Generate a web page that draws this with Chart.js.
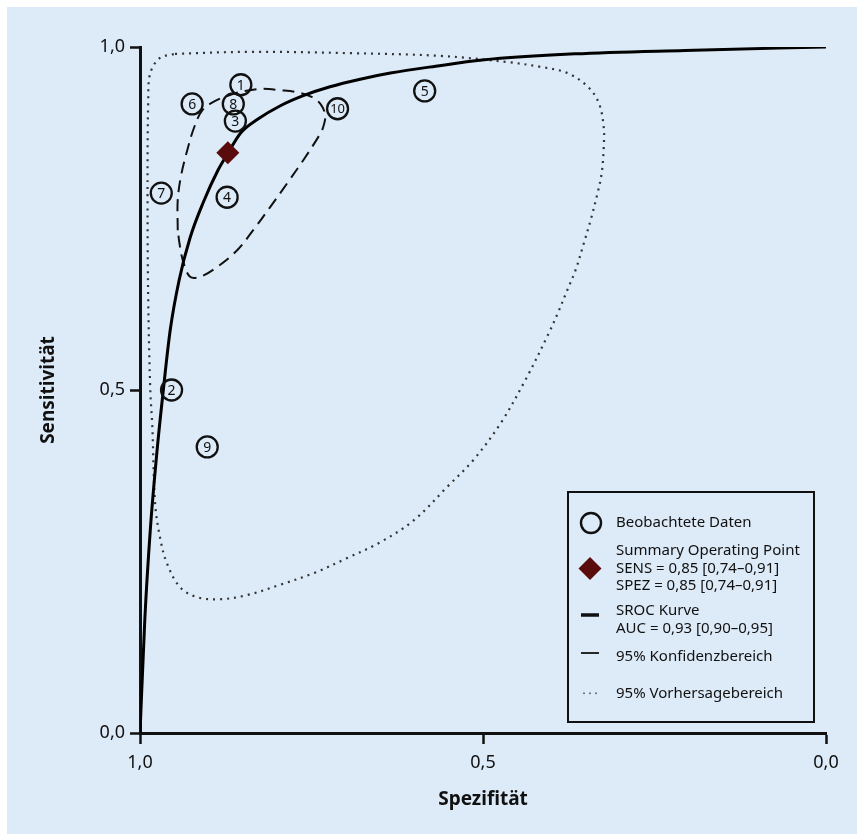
<!DOCTYPE html>
<html lang="de">
<head>
<meta charset="UTF-8">
<title>SROC Kurve</title>
<style>
  html, body { margin: 0; padding: 0; background: #ffffff; overflow: hidden; }
  #wrap { width: 857px; height: 834px; }
</style>
</head>
<body>
<div id="wrap"><canvas id="sroc"></canvas></div>
<script src="https://cdn.jsdelivr.net/npm/chart.js"></script>
<script>
// beobachtete Studien (Spezifität, Sensitivität)
const studyLabels = ['1', '2', '3', '4', '5', '6', '7', '8', '9', '10'];
const studySpec = [0.853, 0.954, 0.861, 0.873, 0.585, 0.924, 0.969, 0.864, 0.902, 0.712];
const studySens = [0.945, 0.500, 0.892, 0.781, 0.936, 0.917, 0.787, 0.917, 0.417, 0.910];

// summary operating point
const summarySpec = [0.872];
const summarySens = [0.846];

// SROC Kurve
const srocSpec = [1.000, 0.993, 0.985, 0.975, 0.966, 0.956, 0.943, 0.927, 0.908, 0.886, 0.872, 0.853, 0.828, 0.796, 0.762, 0.723, 0.679, 0.635, 0.569, 0.501, 0.366, 0.206, 0.000];
const srocSens = [0.000, 0.165, 0.296, 0.413, 0.500, 0.587, 0.660, 0.722, 0.773, 0.821, 0.845, 0.875, 0.895, 0.914, 0.929, 0.942, 0.953, 0.962, 0.972, 0.981, 0.990, 0.995, 1.000];

// 95% Konfidenzbereich
const ciSpec = [0.945, 0.945, 0.940, 0.931, 0.921, 0.909, 0.891, 0.869, 0.847, 0.822, 0.796, 0.771, 0.749, 0.737, 0.730, 0.733, 0.740, 0.762, 0.785, 0.810, 0.835, 0.858, 0.888, 0.912, 0.927, 0.937, 0.942, 0.945];
const ciSens = [0.733, 0.777, 0.813, 0.850, 0.883, 0.908, 0.921, 0.930, 0.936, 0.939, 0.937, 0.934, 0.927, 0.917, 0.901, 0.883, 0.869, 0.835, 0.802, 0.767, 0.733, 0.704, 0.679, 0.665, 0.665, 0.687, 0.711, 0.733];

// 95% Vorhersagebereich
const prSpec = [0.949, 0.839, 0.693, 0.562, 0.464, 0.416, 0.377, 0.347, 0.331, 0.324, 0.324, 0.327, 0.333, 0.343, 0.353, 0.365, 0.377, 0.391, 0.404, 0.438, 0.474, 0.514, 0.552, 0.601, 0.650, 0.698, 0.747, 0.796, 0.844, 0.883, 0.917, 0.942, 0.961, 0.971, 0.978, 0.982, 0.985, 0.988, 0.989, 0.988, 0.985, 0.971, 0.949];
const prSens = [0.990, 0.993, 0.991, 0.987, 0.978, 0.971, 0.962, 0.942, 0.918, 0.883, 0.854, 0.816, 0.787, 0.748, 0.714, 0.675, 0.646, 0.612, 0.583, 0.515, 0.452, 0.398, 0.359, 0.310, 0.278, 0.255, 0.233, 0.216, 0.201, 0.195, 0.198, 0.213, 0.248, 0.286, 0.335, 0.446, 0.500, 0.631, 0.777, 0.923, 0.962, 0.984, 0.990];

const legendLines = [
  ['Beobachtete Daten'],
  ['Summary Operating Point', 'SENS = 0,85 [0,74–0,91]', 'SPEZ = 0,85 [0,74–0,91]'],
  ['SROC Kurve', 'AUC = 0,93 [0,90–0,95]'],
  ['95% Konfidenzbereich'],
  ['95% Vorhersagebereich']
];

const bg = '#ddeaf7';
const fontFam = '"Noto Sans", "Open Sans", sans-serif';

function pts(xs, ys) {
  return xs.map((x, i) => ({ x: x, y: ys[i] }));
}
function fmt(v) {
  return v.toFixed(1).replace('.', ',');
}

const bgPlugin = {
  id: 'bg',
  beforeDraw(chart) {
    const c = chart.ctx;
    c.save();
    c.fillStyle = bg;
    c.fillRect(7, 7, chart.width - 7, chart.height - 7);
    c.restore();
  }
};

const labelPlugin = {
  id: 'studyNums',
  afterDatasetsDraw(chart) {
    const c = chart.ctx;
    const xs = chart.scales.x, ys = chart.scales.y;
    c.save();
    c.fillStyle = '#111';
    c.textAlign = 'center';
    c.textBaseline = 'middle';
    studyLabels.forEach((t, i) => {
      c.font = (t.length > 1 ? '13px ' : '14px ') + fontFam;
      c.fillText(t, xs.getPixelForValue(studySpec[i]), ys.getPixelForValue(studySens[i]) + 1);
    });
    c.restore();
  }
};

const legendPlugin = {
  id: 'boxLegend',
  afterDraw(chart) {
    const c = chart.ctx;
    const bx = 568, by = 492, bw = 246, bh = 230;
    c.save();
    c.fillStyle = bg;
    c.fillRect(bx, by, bw, bh);
    c.strokeStyle = '#111';
    c.lineWidth = 2;
    c.strokeRect(bx, by, bw, bh);

    const ix = 590, tx = 616, lh = 17.5;
    const rowY = [523, 551, 611, 657, 694];
    c.font = '15px ' + fontFam;
    c.fillStyle = '#111';
    c.textAlign = 'left';
    c.textBaseline = 'middle';
    legendLines.forEach((lines, r) => {
      lines.forEach((s, k) => c.fillText(s, tx, rowY[r] + k * lh));
    });

    // icons
    c.strokeStyle = '#111';
    c.lineWidth = 2.4;
    c.beginPath();
    c.arc(ix + 1, 523, 10, 0, Math.PI * 2);
    c.stroke();

    c.fillStyle = '#5a0b0b';
    c.beginPath();
    c.moveTo(ix, 557); c.lineTo(ix + 11.5, 568.5); c.lineTo(ix, 580); c.lineTo(ix - 11.5, 568.5);
    c.closePath();
    c.fill();

    c.lineWidth = 3.5;
    c.beginPath(); c.moveTo(ix - 9, 615); c.lineTo(ix + 9, 615); c.stroke();
    c.lineWidth = 1.8;
    c.beginPath(); c.moveTo(ix - 9, 653); c.lineTo(ix + 9, 653); c.stroke();
    c.fillStyle = '#555';
    [-6, 0, 6].forEach(d => c.fillRect(ix + d - 0.8, 692.5, 1.6, 1.6));
    c.restore();
  }
};

new Chart(document.getElementById('sroc'), {
  type: 'scatter',
  data: {
    datasets: [
      {
        label: 'Summary Operating Point',
        data: pts(summarySpec, summarySens),
        pointStyle: 'rectRot',
        pointRadius: 11.5,
        backgroundColor: '#5a0b0b',
        borderColor: '#5a0b0b',
        borderWidth: 0,
        order: 0
      },
      {
        label: 'Beobachtete Daten',
        data: pts(studySpec, studySens),
        pointStyle: 'circle',
        pointRadius: 10.5,
        borderWidth: 2.3,
        borderColor: '#111',
        backgroundColor: 'rgba(0,0,0,0)',
        order: 1
      },
      {
        label: 'SROC Kurve',
        data: pts(srocSpec, srocSens),
        showLine: true,
        pointRadius: 0,
        borderColor: '#000',
        borderWidth: 3,
        cubicInterpolationMode: 'monotone',
        order: 2
      },
      {
        label: '95% Konfidenzbereich',
        data: pts(ciSpec, ciSens),
        showLine: true,
        pointRadius: 0,
        borderColor: '#111',
        borderWidth: 2,
        borderDash: [12, 7],
        tension: 0.35,
        order: 3
      },
      {
        label: '95% Vorhersagebereich',
        data: pts(prSpec, prSens),
        showLine: true,
        pointRadius: 0,
        borderColor: '#333',
        borderWidth: 2.2,
        borderDash: [2, 5],
        tension: 0.35,
        order: 4
      }
    ]
  },
  options: {
    responsive: true,
    maintainAspectRatio: false,
    animation: false,
    layout: { padding: { top: 47, right: 31, left: 0, bottom: 0 } },
    plugins: {
      legend: { display: false },
      tooltip: { enabled: false }
    },
    scales: {
      x: {
        type: 'linear',
        reverse: true,
        min: 0,
        max: 1,
        afterFit: s => { s.height = 101; },
        ticks: {
          stepSize: 0.5,
          callback: v => fmt(v),
          font: { family: fontFam, size: 18 },
          color: '#111',
          padding: 8,
          maxRotation: 0
        },
        grid: { drawOnChartArea: false, tickLength: 11, tickWidth: 2.5, tickColor: '#111' },
        border: { display: true, color: '#111', width: 3 },
        title: {
          display: true,
          text: 'Spezifität',
          font: { family: fontFam, size: 19, weight: 'bold' },
          color: '#111',
          padding: { top: 0, bottom: 23 }
        }
      },
      y: {
        type: 'linear',
        min: 0,
        max: 1,
        afterFit: s => { s.width = 140; },
        ticks: {
          stepSize: 0.5,
          callback: v => fmt(v),
          font: { family: fontFam, size: 18 },
          color: '#111',
          padding: 5
        },
        grid: { drawOnChartArea: false, tickLength: 10, tickWidth: 2.5, tickColor: '#111' },
        border: { display: true, color: '#111', width: 3 },
        title: {
          display: true,
          text: 'Sensitivität',
          font: { family: fontFam, size: 19, weight: 'bold' },
          color: '#111',
          padding: { top: 37, bottom: 0 }
        }
      }
    }
  },
  plugins: [bgPlugin, labelPlugin, legendPlugin]
});
</script>
</body>
</html>
